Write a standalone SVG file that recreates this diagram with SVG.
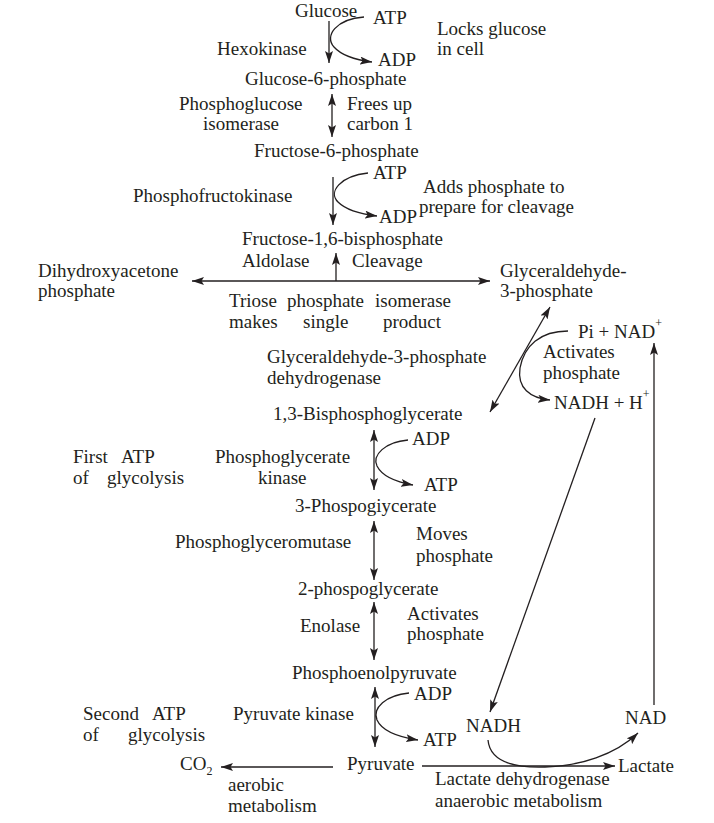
<svg xmlns="http://www.w3.org/2000/svg" width="714" height="823" viewBox="0 0 714 823">
<defs>
<style>
text{font-family:"Liberation Serif","Times New Roman",serif;font-size:19px;fill:#231f20}
.c{fill:none;stroke:#231f20;stroke-width:1.3}
.s{font-size:12px}
</style>
<marker id="ah" viewBox="0 0 12 8" markerUnits="userSpaceOnUse" markerWidth="12" markerHeight="8" refX="12" refY="4" orient="auto-start-reverse">
<path d="M0,0 L12,4 L0,8 L2.5,4 z" fill="#231f20"/>
</marker>
</defs>
<rect width="714" height="823" fill="#fff"/>
<g id="connectors">
<path class="c" d="M329,21 V63" marker-end="url(#ah)"/>
<path class="c" d="M364,17 C336,19 324,36 334,47 C342,56 356,60 372,62" marker-end="url(#ah)"/>
<path class="c" d="M332,94 V137" marker-start="url(#ah)" marker-end="url(#ah)"/>
<path class="c" d="M333,177 V225" marker-end="url(#ah)"/>
<path class="c" d="M368,173 C340,176 328,192 338,202 C346,210 360,214 377,216" marker-end="url(#ah)"/>
<path class="c" d="M336,281 V253" marker-end="url(#ah)"/>
<path class="c" d="M192,281 H490" marker-start="url(#ah)" marker-end="url(#ah)"/>
<path class="c" d="M490,412 L550,307" marker-start="url(#ah)" marker-end="url(#ah)"/>
<path class="c" d="M568,331 C540,331 524,346 520,368 C517,388 530,398 550,400" marker-end="url(#ah)"/>
<path class="c" d="M595,418 L490,712" marker-end="url(#ah)"/>
<path class="c" d="M654,705 V343" marker-end="url(#ah)"/>
<path class="c" d="M374,430 V490" marker-start="url(#ah)" marker-end="url(#ah)"/>
<path class="c" d="M408,440 C385,442 372,455 377,466 C382,476 396,482 413,485" marker-end="url(#ah)"/>
<path class="c" d="M374,521 V580" marker-start="url(#ah)" marker-end="url(#ah)"/>
<path class="c" d="M374,602 V660" marker-start="url(#ah)" marker-end="url(#ah)"/>
<path class="c" d="M375,687 V747" marker-start="url(#ah)" marker-end="url(#ah)"/>
<path class="c" d="M409,693 C386,695 372,708 377,720 C382,731 398,737 418,740" marker-end="url(#ah)"/>
<path class="c" d="M333,767 H221" marker-end="url(#ah)"/>
<path class="c" d="M422,766 H615" marker-end="url(#ah)"/>
<path class="c" d="M488,740 C490,762 515,768 545,767 C580,766 615,755 638,733" marker-end="url(#ah)"/>
</g>
<g id="glucose"><text x="295" y="17">Glucose</text></g>
<g id="atp1"><text x="373" y="24">ATP</text></g>
<g id="note-locks"><text x="437" y="35">Locks glucose</text><text x="437" y="55">in cell</text></g>
<g id="hexokinase"><text x="217" y="55">Hexokinase</text></g>
<g id="adp1"><text x="378" y="66">ADP</text></g>
<g id="g6p"><text x="245" y="85">Glucose-6-phosphate</text></g>
<g id="pgi"><text x="179" y="110">Phosphoglucose</text><text x="203" y="130">isomerase</text></g>
<g id="note-frees"><text x="347" y="110">Frees up</text><text x="347" y="130">carbon 1</text></g>
<g id="f6p"><text x="254" y="157">Fructose-6-phosphate</text></g>
<g id="atp2"><text x="373" y="179">ATP</text></g>
<g id="note-adds"><text x="423" y="193">Adds phosphate to</text><text x="419" y="213">prepare for cleavage</text></g>
<g id="pfk"><text x="133" y="202">Phosphofructokinase</text></g>
<g id="adp2"><text x="379" y="223">ADP</text></g>
<g id="f16bp"><text x="242" y="245">Fructose-1,6-bisphosphate</text></g>
<g id="aldolase"><text x="242" y="267">Aldolase</text></g>
<g id="note-cleavage"><text x="352" y="267">Cleavage</text></g>
<g id="dhap"><text x="38" y="277">Dihydroxyacetone</text><text x="38" y="297">phosphate</text></g>
<g id="g3p"><text x="500" y="277">Glyceraldehyde-</text><text x="500" y="297">3-phosphate</text></g>
<g id="tpi"><text y="307"><tspan x="229">Triose</tspan><tspan x="287">phosphate</tspan><tspan x="375">isomerase</tspan></text><text y="328"><tspan x="229">makes</tspan><tspan x="303">single</tspan><tspan x="383">product</tspan></text></g>
<g id="pi-nad"><text x="578" y="338">Pi + NAD<tspan class="s" dy="-11">+</tspan></text></g>
<g id="note-activates1"><text x="543" y="358">Activates</text><text x="543" y="379">phosphate</text></g>
<g id="gapdh"><text x="267" y="363">Glyceraldehyde-3-phosphate</text><text x="267" y="384">dehydrogenase</text></g>
<g id="nadh-h"><text x="554" y="409">NADH + H<tspan class="s" dy="-11">+</tspan></text></g>
<g id="bpg13"><text x="273" y="420">1,3-Bisphosphoglycerate</text></g>
<g id="adp3"><text x="412" y="445">ADP</text></g>
<g id="note-first"><text y="463"><tspan x="73">First</tspan><tspan x="121">ATP</tspan></text><text y="484"><tspan x="73">of</tspan><tspan x="107">glycolysis</tspan></text></g>
<g id="pgk"><text x="215" y="463">Phosphoglycerate</text><text x="258" y="484">kinase</text></g>
<g id="atp3"><text x="424" y="491">ATP</text></g>
<g id="pg3"><text x="295" y="512">3-Phospogiycerate</text></g>
<g id="note-moves"><text x="416" y="540">Moves</text><text x="416" y="562">phosphate</text></g>
<g id="pgm"><text x="175" y="548">Phosphoglyceromutase</text></g>
<g id="pg2"><text x="298" y="595">2-phospoglycerate</text></g>
<g id="note-activates2"><text x="407" y="620">Activates</text><text x="407" y="640">phosphate</text></g>
<g id="enolase"><text x="300" y="632">Enolase</text></g>
<g id="pep"><text x="292" y="679">Phosphoenolpyruvate</text></g>
<g id="adp4"><text x="414" y="700">ADP</text></g>
<g id="note-second"><text y="720"><tspan x="83">Second</tspan><tspan x="152">ATP</tspan></text><text y="741"><tspan x="83">of</tspan><tspan x="128">glycolysis</tspan></text></g>
<g id="pk"><text x="233" y="720">Pyruvate kinase</text></g>
<g id="nad"><text x="625" y="724">NAD</text></g>
<g id="nadh"><text x="466" y="732">NADH</text></g>
<g id="atp4"><text x="423" y="746">ATP</text></g>
<g id="co2"><text x="180" y="770">CO<tspan class="s" dy="5">2</tspan></text></g>
<g id="pyruvate"><text x="347" y="770">Pyruvate</text></g>
<g id="lactate"><text x="618" y="772">Lactate</text></g>
<g id="ldh"><text x="435" y="785">Lactate dehydrogenase</text><text x="435" y="807">anaerobic metabolism</text></g>
<g id="aerobic"><text x="228" y="791">aerobic</text><text x="228" y="812">metabolism</text></g>
</svg>
